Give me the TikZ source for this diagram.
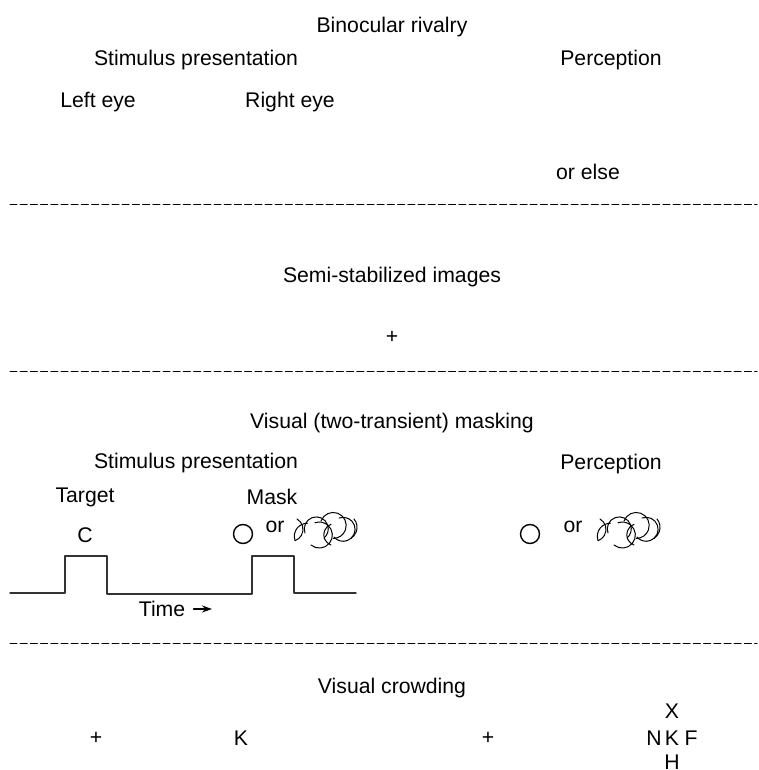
\documentclass[tikz,border=0pt]{standalone}
\usepackage{fontspec}
\setmainfont{Liberation Sans}
\usetikzlibrary{arrows.meta}
\tikzset{
	lbl/.style={inner sep=0pt,font=\fontsize{10.6}{12}\selectfont},
	sep/.style={line width=0.5pt,dash pattern=on 3.5pt off 1.6pt},
	pulse/.style={line width=0.7pt,draw=black!80},
	% tangle of arcs used as the noise mask
	scrawl/.pic={
		\begin{scope}[yscale=-1,line width=0.5pt]
		\draw (0,12) arc (60:-70:12) coordinate (lf);
		\draw (lf) arc (200:90:13);
		\draw (8,-2) arc (200:-50:12);
		\draw (14,-14) arc (230:470:13);
		\draw (24,10) arc (160:-90:13);
		\draw (34,-14) arc (250:110:11);
		\draw (42,13) arc (110:-140:12);
		\draw (57,12) arc (40:-60:13);
		\end{scope}
	}
}
\begin{document}
\begin{tikzpicture}[x=0.5pt,y=-0.5pt,line join=round,line cap=round]
	\useasboundingbox (0,0) rectangle (759,770);
	% headings and labels
	\path
	(392,27) node[lbl] (rivalry) {Binocular rivalry}
	(196,60) node[lbl] (stimA) {Stimulus presentation}
	(611,60) node[lbl] (percA) {Perception}
	(98,102) node[lbl] (lefteye) {Left eye}
	(290,102) node[lbl] (righteye) {Right eye}
	(588,172) node[lbl] (orelse) {or else}
	(392,277) node[lbl] (semistab) {Semi-stabilized images}
	(392,337) node[lbl] (fixA) {+}
	(392,423) node[lbl] (masking) {Visual (two-transient) masking}
	(196,463) node[lbl] (stimB) {Stimulus presentation}
	(611,464) node[lbl] (percB) {Perception}
	(85,497) node[lbl] (target) {Target}
	(272,497) node[lbl] (mask) {Mask}
	(85,535) node[lbl] (C) {C}
	(275,527) node[lbl] (orA) {or}
	(573,527) node[lbl] (orB) {or}
	(162,609) node[lbl] (time) {Time}
	(392,688) node[lbl] (crowding) {Visual crowding}
	;
	% separators
	\foreach \y/\n in {205/1,371/2,643/3}{
		\coordinate (s\n) at (10,\y);
		\coordinate (e\n) at (757,\y);
		\draw[sep] (s\n) -- (e\n);
	}
	% masking stimuli
	\foreach \x/\n in {243/A,530/B}
	\draw[line width=0.7pt] (\x,534) circle (9.5) coordinate (ring\n);
	\pic at (297,531) {scrawl};
	\pic at (600,531) {scrawl};
	% timing of target and mask
	\draw[pulse] (10,593) -- (65,593) -- (65,556) -- (107,556) -- (107,594)
	-- (252,594) -- (252,556) -- (294,556) -- (294,593) -- (356,593);
	\coordinate (tip) at (212,609);
	\draw[-{Stealth[length=5pt,width=3.5pt]},line width=0.6pt] ([xshift=4pt]time.east) -- (tip);
	% crowding
	\foreach \x/\y/\t/\n in {96/738/+/fixB,241/738/K/K1,488/738/+/fixC,
		654/738/N/N,672/738/K/K2,691/738/F/F,672/711/X/X,672/762/H/H}
	\node[lbl] (\n) at (\x,\y) {\t};
\end{tikzpicture}
\end{document}
